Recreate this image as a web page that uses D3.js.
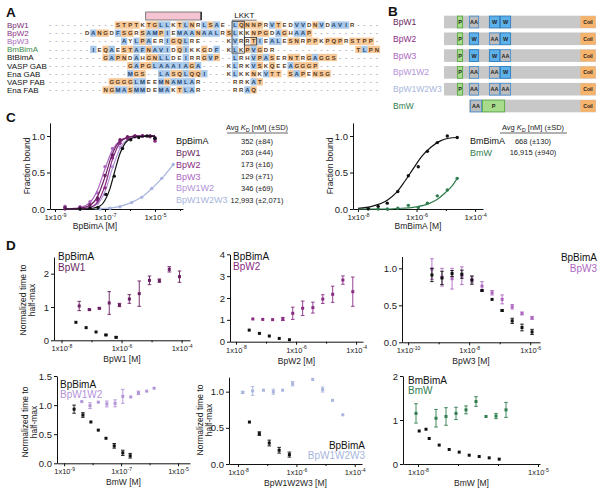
<!DOCTYPE html>
<html>
<head>
<meta charset="utf-8">
<script src="https://cdn.jsdelivr.net/npm/d3@7"></script>
<style>
  body { margin: 0; background: #fff; }
</style>
</head>
<body>
<div class="container"></div>
<script>
// ---------- A: alignment ----------
const alignNames = ['BpW1', 'BpW2', 'BpW3', 'BmBimA', 'BtBimA', 'VASP GAB', 'Ena GAB', 'VASP FAB', 'Ena FAB'];
const alignSeqs = [
  '-----------STPTKTGLLKTLNRLSAE-LQNNPRVTEDVVDNVDAVIR----',
  '------DANGDFSGRSAMPIEMAANAALRSLKKNPGDAGHAAP-----------',
  '------------AYLPAERIGQLRE----KVRRTIEALESNRPPKPQPRSTPP-',
  '-------IEQAESTAFNAVIDQIKKGDF-KLKPVGDR-------------TLPN',
  '---------GAPNDAHGNLLDEIRRGVP--LRHVPASERNTRGAGGS-------',
  '-------------GAPGLAAAIAGA----KLRKVSKQEEAGGGP----------',
  '-------------MGS--LASQLQQI---KLKKNKVTT-SAPENSG--------',
  '----------GGGGLMEEMNAMLAR-----RRKAT-------------------',
  '---------NGMASMMDEMAKTLAR-----RRAQ--------------------'
];
const helixCols = [16, 25];
const motifCols = [30, 34];

// ---------- B: constructs ----------
const domNames = ['BpW1', 'BpW2', 'BpW3', 'BpW1W2', 'BpW1W2W3', 'BmW'];
const domSlots = [['AA', 'W', 'W'], ['W', 'AA', 'W'], ['W', 'W', 'AA'], ['AA', 'AA', 'W'], ['AA', 'AA', 'AA']];
const slotRanges = [[25, 35], [45, 56], [56, 67]];
const pRange = [13, 19];
const coilRange = [136, 152];
const bmwBar = [25, 152];
const bmwDomains = [['AA', 26, 38], ['P', 38, 61]];

// ---------- C: binding curves (x = log10 concentration, y = fraction bound) ----------
const cNames = ['BpBimA', 'BpW1', 'BpW2', 'BpW3', 'BpW1W2', 'BpW1W2W3'];
const cKd = ['352 (±84)', '263 (±44)', '173 (±16)', '129 (±71)', '346 (±69)', '12,993 (±2,071)'];
const fitBpBimA = [[-8.6, 0], [-7.8, 0], [-7.5, 0.01], [-7.2, 0.04], [-7.0, 0.12], [-6.8, 0.28], [-6.6, 0.53], [-6.4, 0.76], [-6.2, 0.9], [-6.0, 0.96], [-5.7, 0.99], [-5.3, 1.0], [-5.0, 1.0]];
const fitBpW1 = [[-8.6, 0], [-8.0, 0.01], [-7.6, 0.05], [-7.3, 0.17], [-7.0, 0.44], [-6.7, 0.76], [-6.4, 0.93], [-6.1, 0.98], [-5.7, 1.0], [-5.0, 1.0]];
const fitBpW2 = [[-8.6, 0], [-8.0, 0], [-7.6, 0.02], [-7.3, 0.09], [-7.0, 0.32], [-6.7, 0.68], [-6.4, 0.91], [-6.1, 0.98], [-5.7, 1.0], [-5.0, 1.0]];
const fitBpW3 = [[-8.6, 0], [-8.0, 0.02], [-7.6, 0.09], [-7.3, 0.26], [-7.0, 0.55], [-6.7, 0.81], [-6.4, 0.94], [-6.1, 0.98], [-5.7, 1.0], [-5.0, 1.0]];
const fitBpW1W2 = [[-8.6, 0], [-8.0, 0], [-7.6, 0.02], [-7.3, 0.07], [-7.0, 0.24], [-6.7, 0.56], [-6.4, 0.83], [-6.1, 0.95], [-5.7, 0.99], [-5.0, 1.0]];
const fitBpW1W2W3 = [[-7.4, 0], [-7.0, 0.01], [-6.5, 0.03], [-6.0, 0.08], [-5.5, 0.17], [-5.1, 0.29], [-4.7, 0.43], [-4.25, 0.62]];
const ptsBpBimA = [[-8.0, 0], [-7.6, 0.01], [-7.28, 0.02], [-6.96, 0.2], [-6.63, 0.45], [-6.3, 0.83], [-5.97, 0.95], [-5.65, 0.98], [-5.32, 1.0], [-5.0, 0.97]];
const ptsBpW1 = [[-8.6, 0.02], [-8.0, 0.01], [-7.6, 0.06], [-7.3, 0.15], [-7.0, 0.46], [-6.7, 0.74], [-6.4, 0.95], [-6.1, 0.99], [-5.8, 1.0], [-5.5, 1.0], [-5.2, 1.0], [-5.0, 0.96]];
const ptsBpW2 = [[-8.6, 0], [-8.0, 0.02], [-7.6, 0.03], [-7.3, 0.12], [-7.0, 0.29], [-6.7, 0.7], [-6.4, 0.9], [-6.1, 0.97], [-5.8, 1.0], [-5.5, 1.0], [-5.2, 0.99], [-5.0, 0.93]];
const ptsBpW3 = [[-8.6, 0.03], [-8.0, 0.03], [-7.6, 0.1], [-7.3, 0.22], [-7.0, 0.58], [-6.7, 0.83], [-6.4, 0.93], [-6.1, 0.97], [-5.8, 0.99], [-5.5, 1.0], [-5.2, 1.0], [-5.0, 0.98]];
const ptsBpW1W2 = [[-8.6, 0.04], [-8.0, 0], [-7.6, 0.02], [-7.3, 0.08], [-7.0, 0.2], [-6.7, 0.58], [-6.4, 0.85], [-6.1, 0.96], [-5.8, 0.99], [-5.5, 1.0], [-5.2, 1.0], [-5.0, 0.95]];
const ptsBpW1W2W3 = [[-7.2, 0], [-6.8, 0.01], [-6.4, 0.03], [-5.93, 0.09], [-5.53, 0.16], [-5.13, 0.28], [-4.73, 0.42], [-4.27, 0.61]];

const cRightNames = ['BmBimA', 'BmW'];
const cRightKd = ['668 (±130)', '16,915 (±940)'];
const fitBmBimA = [[-8.0, 0.01], [-7.5, 0.04], [-7.0, 0.12], [-6.7, 0.22], [-6.4, 0.38], [-6.1, 0.56], [-5.8, 0.73], [-5.5, 0.85], [-5.2, 0.93], [-4.9, 0.97], [-4.6, 0.98]];
const fitBmW = [[-8.0, 0], [-7.0, 0], [-6.5, 0.01], [-6.0, 0.03], [-5.6, 0.07], [-5.3, 0.13], [-5.0, 0.23], [-4.8, 0.31], [-4.61, 0.42]];
const ptsBmBimA = [[-7.65, 0.005], [-7.31, 0.036], [-7.0, 0.08], [-6.64, 0.24], [-6.28, 0.455], [-5.94, 0.58], [-5.63, 0.79], [-5.29, 0.91], [-4.95, 1.0], [-4.61, 0.98]];
const ptsBmW = [[-7.65, 0], [-7.31, 0], [-7.0, 0], [-6.64, 0.01], [-6.28, 0.05], [-5.94, 0.02], [-5.63, 0.08], [-5.29, 0.18], [-4.95, 0.26], [-4.61, 0.42]];

// ---------- D: normalized time to half-max [log10 conc, value, sd] ----------
const d1Black = [[-7.52, 0.54, 0], [-7.18, 0.38, 0], [-6.85, 0.25, 0], [-6.52, 0.16, 0.02], [-6.18, 0.09, 0.02]];
const d1Color = [[-7.41, 1.03, 0.14], [-7.07, 0.92, 0.02], [-6.74, 0.96, 0.02], [-6.41, 1.12, 0.34], [-6.07, 1.06, 0.05], [-5.74, 1.24, 0.13], [-5.41, 1.4, 0.38], [-5.07, 1.8, 0.13], [-4.74, 1.79, 0.05], [-4.41, 2.13, 0.08], [-4.07, 1.91, 0.17]];
const d2Black = [[-7.56, 0.53, 0], [-7.22, 0.38, 0], [-6.89, 0.26, 0], [-6.56, 0.15, 0], [-6.22, 0.09, 0]];
const d2Color = [[-7.44, 1.04, 0], [-7.11, 1.02, 0], [-6.78, 1.01, 0], [-6.44, 1.04, 0.07], [-6.11, 1.3, 0.28], [-5.78, 1.53, 0.33], [-5.44, 1.56, 0.25], [-5.11, 1.95, 0.2], [-4.78, 2.17, 0.37], [-4.44, 2.82, 0.19], [-4.11, 2.29, 0.67]];
const d3Black = [[-9.22, 0.91, 0.09], [-8.89, 0.87, 0.09], [-8.56, 0.93, 0.04], [-8.24, 0.92, 0.055], [-7.91, 0.84, 0.055], [-7.58, 0.7, 0.01], [-7.25, 0.58, 0], [-6.92, 0.43, 0.01], [-6.59, 0.29, 0.035], [-6.27, 0.2, 0.045], [-5.94, 0.14, 0.035]];
const d3Color = [[-9.22, 0.99, 0.14], [-8.89, 0.88, 0.12], [-8.56, 0.86, 0.14], [-8.24, 0.9, 0.12], [-7.91, 0.85, 0.045], [-7.58, 0.76, 0.06], [-7.25, 0.67, 0.03], [-6.92, 0.58, 0.06], [-6.59, 0.48, 0.03], [-6.27, 0.39, 0.02], [-5.94, 0.33, 0.02]];
const d4Black = [[-8.65, 0.93, 0.07], [-8.34, 0.83, 0.04], [-8.06, 0.71, 0], [-7.8, 0.57, 0], [-7.53, 0.43, 0], [-7.24, 0.3, 0.04], [-6.94, 0.18, 0.045], [-6.68, 0.13, 0.04]];
const d4Color = [[-8.38, 1.06, 0], [-8.09, 0.99, 0.05], [-7.8, 1.05, 0], [-7.5, 1.02, 0.05], [-7.21, 1.03, 0.06], [-6.94, 1.15, 0.12], [-6.66, 1.14, 0], [-6.39, 1.21, 0.03], [-6.1, 1.24, 0], [-5.84, 1.29, 0]];
const d5Black = [[-7.61, 0.58, 0], [-7.27, 0.42, 0.025], [-6.93, 0.29, 0.04], [-6.59, 0.19, 0.04], [-6.24, 0.13, 0.035]];
const d5Color = [[-7.84, 0.99, 0.015], [-7.5, 1.01, 0.06], [-7.13, 1.02, 0], [-6.79, 1.0, 0.035], [-6.47, 1.02, 0], [-6.13, 1.11, 0.03], [-5.44, 1.17, 0], [-5.1, 1.03, 0.035], [-4.76, 0.88, 0], [-4.41, 0.68, 0]];
const d6Black = [[-7.97, 0.75, 0], [-7.8, 0.79, 0], [-7.72, 0.58, 0], [-7.47, 0.43, 0], [-7.22, 0.33, 0], [-6.97, 0.27, 0], [-6.72, 0.2, 0], [-6.47, 0.17, 0], [-6.22, 0.14, 0], [-5.97, 0.11, 0]];
const d6Color = [[-8.05, 1.15, 0.22], [-7.55, 1.04, 0.2], [-7.3, 1.08, 0.2], [-7.05, 1.15, 0.14], [-6.8, 1.23, 0.09], [-6.55, 1.42, 0.11], [-6.3, 1.08, 0], [-6.05, 1.09, 0.06], [-5.8, 1.23, 0.17]];

// ---------- styles ----------
const FONT = '"Liberation Sans", Arial, Helvetica, sans-serif';
const colors = {
  BpBimA: '#111', BmBimA: '#111', BtBimA: '#111',
  BpW1: '#6a1f62', BpW2: '#8a2c84', BpW3: '#ad66bf',
  BpW1W2: '#b393d8', BpW1W2W3: '#a8b5de', BmW: '#2f7d4f'
};
const alignColors = { BpW1: '#7a2870', BpW2: '#8b2e83', BpW3: '#a868b8', BmBimA: '#3d8c47' };
const blueRes = 'AILMFVWC', orangeRes = 'GPSTNQ';

let svg = null;

window.onload = function () {
  svg = d3.select('.container').append('svg')
    .attr('width', 600).attr('height', 492)
    .style('font-family', FONT);
  drawA();
  drawB();
  drawCLeft();
  drawCRight();
  drawDPanels();
};

function panelLabel(t, x, y) {
  svg.append('text').attr('x', x).attr('y', y)
    .attr('font-size', 13.5).attr('font-weight', 'bold').attr('fill', '#111').text(t);
}

function resColor(c) {
  if (blueRes.includes(c)) return '#a9c8ea';
  if (orangeRes.includes(c)) return '#f7c896';
  return null;
}

function drawA() {
  panelLabel('A', 6, 17);
  const g = svg.append('g');
  const colX = d3.scaleBand().domain(d3.range(alignSeqs[0].length)).range([47, 380]);
  const rowY = d3.scaleBand().domain(alignNames).range([21, 94]);
  const bw = colX.bandwidth(), bh = rowY.bandwidth();

  alignNames.forEach((n, r) => {
    g.append('text').attr('x', 7).attr('y', rowY(n) + bh / 2 + 2.9)
      .attr('font-size', 8).attr('fill', alignColors[n] || '#111').text(n);
    const cells = alignSeqs[r].split('').map((c, i) => ({ c, i }));
    g.selectAll(null).data(cells.filter(d => resColor(d.c))).join('rect')
      .attr('x', d => colX(d.i)).attr('y', rowY(n) + 0.4)
      .attr('width', bw + 0.15).attr('height', bh - 0.8)
      .attr('fill', d => resColor(d.c));
    g.selectAll(null).data(cells).join('text')
      .attr('x', d => colX(d.i) + bw / 2).attr('y', rowY(n) + bh / 2 + 2.2)
      .attr('text-anchor', 'middle').attr('font-size', 6).attr('font-weight', 'bold')
      .attr('fill', d => d.c === '-' ? '#999' : (blueRes.includes(d.c) ? '#23456e' : '#5a3a22'))
      .text(d => d.c);
  });

  // helix bar
  const hx0 = colX(helixCols[0]), hx1 = colX(helixCols[1]);
  g.append('rect').attr('x', hx0).attr('y', 12).attr('width', hx1 - hx0).attr('height', 8)
    .attr('fill', '#f5c4d3').attr('stroke', '#666').attr('stroke-width', 0.8);
  g.append('line').attr('x1', hx1).attr('x2', hx1).attr('y1', 12).attr('y2', 20)
    .attr('stroke', '#333').attr('stroke-width', 1.6);

  // LKKT motif
  const mx0 = colX(motifCols[0]), mx1 = colX(motifCols[1]);
  g.append('text').attr('x', (mx0 + mx1) / 2).attr('y', 17.5).attr('text-anchor', 'middle')
    .attr('font-size', 8).attr('fill', '#111').text('LKKT');
  g.append('line').attr('x1', mx0).attr('x2', mx1).attr('y1', 20.2).attr('y2', 20.2)
    .attr('stroke', '#555').attr('stroke-width', 0.8);
  g.append('rect').attr('x', mx0).attr('y', rowY('BpW1') + 0.3).attr('width', 2 * bw)
    .attr('height', 4 * bh - 0.6).attr('fill', 'none').attr('stroke', '#333').attr('stroke-width', 0.8);
  g.append('rect').attr('x', colX(motifCols[0] + 2)).attr('y', rowY('BpW3') + 0.3).attr('width', 2 * bw)
    .attr('height', bh - 0.6).attr('fill', 'none').attr('stroke', '#333').attr('stroke-width', 0.8);
}

function domainStyle(t) {
  if (t === 'P') return { fill: '#a8dc8c', stroke: '#5aa845' };
  if (t === 'W') return { fill: '#5eb0e8', stroke: '#2d7fc1' };
  if (t === 'AA') return { fill: '#bcbcbc', stroke: '#4a90d0' };
  return { fill: '#f6b36c', stroke: 'none' };
}

function drawB() {
  panelLabel('B', 388, 16);
  const g = svg.append('g');
  const x = d3.scaleLinear().domain([0, 152]).range([444, 596]);
  const y = d3.scalePoint().domain(domNames).range([22, 106]);
  const h = 12.6;

  domNames.forEach((n, i) => {
    g.append('text').attr('x', 393).attr('y', y(n) + 3).attr('font-size', 8.5)
      .attr('fill', colors[n]).text(n);
    const bar = n === 'BmW' ? bmwBar : [0, 152];
    g.append('rect').attr('x', x(bar[0])).attr('y', y(n) - h / 2)
      .attr('width', x(bar[1]) - x(bar[0])).attr('height', h).attr('fill', '#c8c8c8');
    let doms;
    if (n === 'BmW') {
      doms = bmwDomains.map(d => ({ t: d[0], a: d[1], b: d[2] }));
    } else {
      doms = [{ t: 'P', a: pRange[0], b: pRange[1] }]
        .concat(domSlots[i].map((t, k) => ({ t, a: slotRanges[k][0], b: slotRanges[k][1] })));
    }
    doms.push({ t: 'Coil', a: coilRange[0], b: coilRange[1] });
    doms.forEach(d => {
      const s = domainStyle(d.t);
      g.append('rect').attr('x', x(d.a) + 0.4).attr('y', y(n) - h / 2 + 0.4)
        .attr('width', x(d.b) - x(d.a) - 0.8).attr('height', h - 0.8)
        .attr('fill', s.fill).attr('stroke', s.stroke).attr('stroke-width', 0.9);
      g.append('text').attr('x', (x(d.a) + x(d.b)) / 2).attr('y', y(n) + 2)
        .attr('text-anchor', 'middle').attr('font-size', d.t === 'Coil' ? 5 : 5.5)
        .attr('font-weight', 'bold').attr('fill', '#222').text(d.t);
    });
  });
}

function logAxis(g, x, labelExps, fs) {
  const [lo, hi] = x.domain().map(Math.log10);
  const decs = d3.range(Math.ceil(lo - 1e-9), Math.floor(hi + 1e-9) + 1);
  g.call(d3.axisBottom(x).tickValues(decs.map(e => Math.pow(10, e)))
    .tickSize(3).tickSizeOuter(0).tickFormat(''));
  g.attr('font-family', FONT);
  g.selectAll('path, line').attr('stroke', '#111');
  g.selectAll('.tick text').remove();
  g.selectAll('.tick').each(function (v) {
    const e = Math.round(Math.log10(v));
    if (!labelExps.includes(e)) { d3.select(this).select('line').attr('y2', 2); return; }
    const t = d3.select(this).append('text').attr('y', 11).attr('text-anchor', 'middle')
      .attr('fill', '#222').attr('font-size', fs);
    t.append('tspan').text('1x10');
    t.append('tspan').attr('dy', -3.5).attr('font-size', fs * 0.68).text(e);
  });
}

function linAxis(g, y, ticks, fmt, fs) {
  g.call(d3.axisLeft(y).tickValues(ticks).tickFormat(fmt).tickSize(3).tickSizeOuter(0).tickPadding(2));
  g.attr('font-family', FONT).attr('font-size', fs);
  g.selectAll('path, line').attr('stroke', '#111');
  g.selectAll('text').attr('fill', '#222');
}

function rotLabel(lines, x, y, gap) {
  lines.forEach((s, i) => {
    svg.append('text').attr('transform', `translate(${x + i * gap},${y}) rotate(-90)`)
      .attr('text-anchor', 'middle').attr('font-size', 8.5).attr('fill', '#222').text(s);
  });
}

function kdHeader(cx, y, x0, x1) {
  const t = svg.append('text').attr('x', cx).attr('y', y).attr('text-anchor', 'middle')
    .attr('font-size', 7.5).attr('fill', '#222');
  t.append('tspan').text('Avg ');
  t.append('tspan').attr('font-style', 'italic').text('K');
  t.append('tspan').attr('dy', 2).attr('font-size', 5.5).text('D');
  t.append('tspan').attr('dy', -2).text(' [nM] (±SD)');
  svg.append('line').attr('x1', x0).attr('x2', x1).attr('y1', y + 3.5).attr('y2', y + 3.5)
    .attr('stroke', '#222').attr('stroke-width', 0.7);
}

function drawCurves(g, x, y, series) {
  const line = d3.line().x(d => x(Math.pow(10, d[0]))).y(d => y(d[1])).curve(d3.curveMonotoneX);
  series.forEach(s => {
    g.append('path').datum(s.fit).attr('d', line).attr('fill', 'none')
      .attr('stroke', colors[s.name]).attr('stroke-width', 1.2);
    g.selectAll(null).data(s.pts).join('circle')
      .attr('cx', d => x(Math.pow(10, d[0]))).attr('cy', d => y(d[1])).attr('r', 1.7)
      .attr('fill', colors[s.name]);
  });
}

function drawCLeft() {
  panelLabel('C', 6, 122);
  const x = d3.scaleLog().domain([Math.pow(10, -9.2), Math.pow(10, -3.88)]).range([50, 183]);
  const y = d3.scaleLinear().domain([0, 1.18]).range([209, 122.9]);
  const g = svg.append('g');
  logAxis(g.append('g').attr('transform', 'translate(0,209)'), x, [-9, -7, -5], 8);
  linAxis(g.append('g').attr('transform', 'translate(50,0)'), y, [0, 0.5, 1], d3.format('.1f'), 9.5);
  const fits = [fitBpBimA, fitBpW1, fitBpW2, fitBpW3, fitBpW1W2, fitBpW1W2W3];
  const pts = [ptsBpBimA, ptsBpW1, ptsBpW2, ptsBpW3, ptsBpW1W2, ptsBpW1W2W3];
  const series = cNames.map((name, i) => ({ name, fit: fits[i], pts: pts[i] })).reverse();
  drawCurves(g, x, y, series);
  rotLabel(['Fraction bound'], 30, 166, 0);
  svg.append('text').attr('x', 95).attr('y', 229).attr('text-anchor', 'middle')
    .attr('font-size', 8.5).attr('fill', '#222').text('BpBimA [M]');

  kdHeader(257, 129.5, 227, 288);
  cNames.forEach((n, i) => {
    const yy = 144 + i * 11.86;
    svg.append('text').attr('x', 176).attr('y', yy).attr('font-size', 9)
      .attr('fill', colors[n]).text(n);
    svg.append('text').attr('x', 257).attr('y', yy - 0.5).attr('text-anchor', 'middle')
      .attr('font-size', 7.5).attr('fill', '#222').text(cKd[i]);
  });
}

function drawCRight() {
  const x = d3.scaleLog().domain([Math.pow(10, -8.17), Math.pow(10, -3.73)]).range([353, 483]);
  const y = d3.scaleLinear().domain([0, 1.18]).range([209, 122.9]);
  const g = svg.append('g');
  logAxis(g.append('g').attr('transform', 'translate(0,209)'), x, [-8, -6, -4], 8);
  linAxis(g.append('g').attr('transform', 'translate(353,0)'), y, [0, 0.5, 1], d3.format('.1f'), 9.5);
  drawCurves(g, x, y, [
    { name: 'BmW', fit: fitBmW, pts: ptsBmW },
    { name: 'BmBimA', fit: fitBmBimA, pts: ptsBmBimA }
  ]);
  rotLabel(['Fraction bound'], 333, 166, 0);
  svg.append('text').attr('x', 418).attr('y', 229).attr('text-anchor', 'middle')
    .attr('font-size', 8.5).attr('fill', '#222').text('BmBimA [M]');

  kdHeader(533, 129.5, 500, 567);
  cRightNames.forEach((n, i) => {
    const yy = 144 + i * 11.86;
    svg.append('text').attr('x', 470).attr('y', yy).attr('font-size', 9)
      .attr('fill', colors[n]).text(n);
    svg.append('text').attr('x', 533).attr('y', yy - 0.5).attr('text-anchor', 'middle')
      .attr('font-size', 7.5).attr('fill', '#222').text(cRightKd[i]);
  });
}

function drawD(o) {
  const x = d3.scaleLog().domain([Math.pow(10, o.xd[0]), Math.pow(10, o.xd[1])]).range([o.x0, o.x1]);
  const y = d3.scaleLinear().domain(o.yd).range([o.y0, o.y1]);
  const g = svg.append('g');
  logAxis(g.append('g').attr('transform', `translate(0,${o.y0})`), x, o.labels, 7.5);
  linAxis(g.append('g').attr('transform', `translate(${o.x0},0)`), y, o.yt, o.yf, 9.5);

  [[o.col, colors[o.name]], [o.black, '#111']].forEach(([data, c]) => {
    const s = g.append('g');
    const withErr = data.filter(d => d[2] > 0);
    const px = d => x(Math.pow(10, d[0]));
    s.selectAll(null).data(withErr).join('line')
      .attr('x1', px).attr('x2', px)
      .attr('y1', d => y(d[1] - d[2])).attr('y2', d => y(d[1] + d[2]))
      .attr('stroke', c).attr('stroke-width', 0.9);
    ['-', '+'].forEach(sign => {
      s.selectAll(null).data(withErr).join('line')
        .attr('x1', d => px(d) - 1.8).attr('x2', d => px(d) + 1.8)
        .attr('y1', d => y(sign === '+' ? d[1] + d[2] : d[1] - d[2]))
        .attr('y2', d => y(sign === '+' ? d[1] + d[2] : d[1] - d[2]))
        .attr('stroke', c).attr('stroke-width', 0.9);
    });
    s.selectAll(null).data(data).join('rect')
      .attr('x', d => px(d) - 1.5).attr('y', d => y(d[1]) - 1.5)
      .attr('width', 3).attr('height', 3).attr('fill', c);
  });

  const anchor = o.legAnchor || 'start';
  svg.append('text').attr('x', o.legX).attr('y', o.legY).attr('text-anchor', anchor)
    .attr('font-size', 10).attr('fill', '#111').text(o.ref);
  svg.append('text').attr('x', o.legX).attr('y', o.legY + 10.5).attr('text-anchor', anchor)
    .attr('font-size', 10).attr('fill', colors[o.name]).text(o.name);

  svg.append('text').attr('x', (o.x0 + o.x1) / 2).attr('y', o.y0 + 22).attr('text-anchor', 'middle')
    .attr('font-size', 8.5).attr('fill', '#222').text(o.xTitle);
  if (o.yLab) rotLabel(['Normalized time to', 'half-max'], o.yLab[0], o.yLab[1], 9);
}

function drawDPanels() {
  panelLabel('D', 6, 250);
  const f1 = d3.format('.1f'), fd = d3.format('d');
  drawD({ name: 'BpW1', ref: 'BpBimA', black: d1Black, col: d1Color,
    x0: 54, x1: 190, xd: [-8.25, -3.72], labels: [-8, -6, -4],
    y0: 340.3, y1: 257, yd: [0, 2.5], yt: [0, 1, 2], yf: fd,
    legX: 58, legY: 260, xTitle: 'BpW1 [M]', yLab: [26, 300] });
  drawD({ name: 'BpW2', ref: 'BpBimA', black: d2Black, col: d2Color,
    x0: 230, x1: 363, xd: [-8.2, -3.77], labels: [-8, -6, -4],
    y0: 341.7, y1: 254.3, yd: [0, 4], yt: [0, 1, 2, 3, 4], yf: fd,
    legX: 233, legY: 259.5, xTitle: 'BpW2 [M]' });
  drawD({ name: 'BpW3', ref: 'BpBimA', black: d3Black, col: d3Color,
    x0: 402, x1: 540, xd: [-10.2, -5.68], labels: [-10, -8, -6],
    y0: 342.3, y1: 256.5, yd: [0, 1.16], yt: [0, 0.5, 1], yf: f1,
    legX: 597, legY: 261, legAnchor: 'end', xTitle: 'BpW3 [M]' });
  drawD({ name: 'BpW1W2', ref: 'BpBimA', black: d4Black, col: d4Color,
    x0: 57, x1: 190, xd: [-9.25, -4.58], labels: [-9, -7, -5],
    y0: 463.3, y1: 376, yd: [0, 1.5], yt: [0, 0.5, 1, 1.5], yf: f1,
    legX: 60, legY: 387.5, xTitle: 'BmW [M]', yLab: [28, 422] });
  drawD({ name: 'BpW1W2W3', ref: 'BpBimA', black: d5Black, col: d5Color,
    x0: 229, x1: 362, xd: [-8.31, -3.75], labels: [-8, -6, -4],
    y0: 464, y1: 377.2, yd: [0, 1.2], yt: [0, 0.5, 1], yf: f1,
    legX: 365, legY: 448.5, legAnchor: 'end', xTitle: 'BpW1W2W3 [M]', yLab: [203, 420] });
  drawD({ name: 'BmW', ref: 'BmBimA', black: d6Black, col: d6Color,
    x0: 403, x1: 540, xd: [-8.375, -4.95], labels: [-8, -5],
    y0: 464, y1: 376, yd: [0, 2], yt: [0, 1, 2], yf: fd,
    legX: 408, legY: 383.5, xTitle: 'BmW [M]' });
}
</script>
</body>
</html>
